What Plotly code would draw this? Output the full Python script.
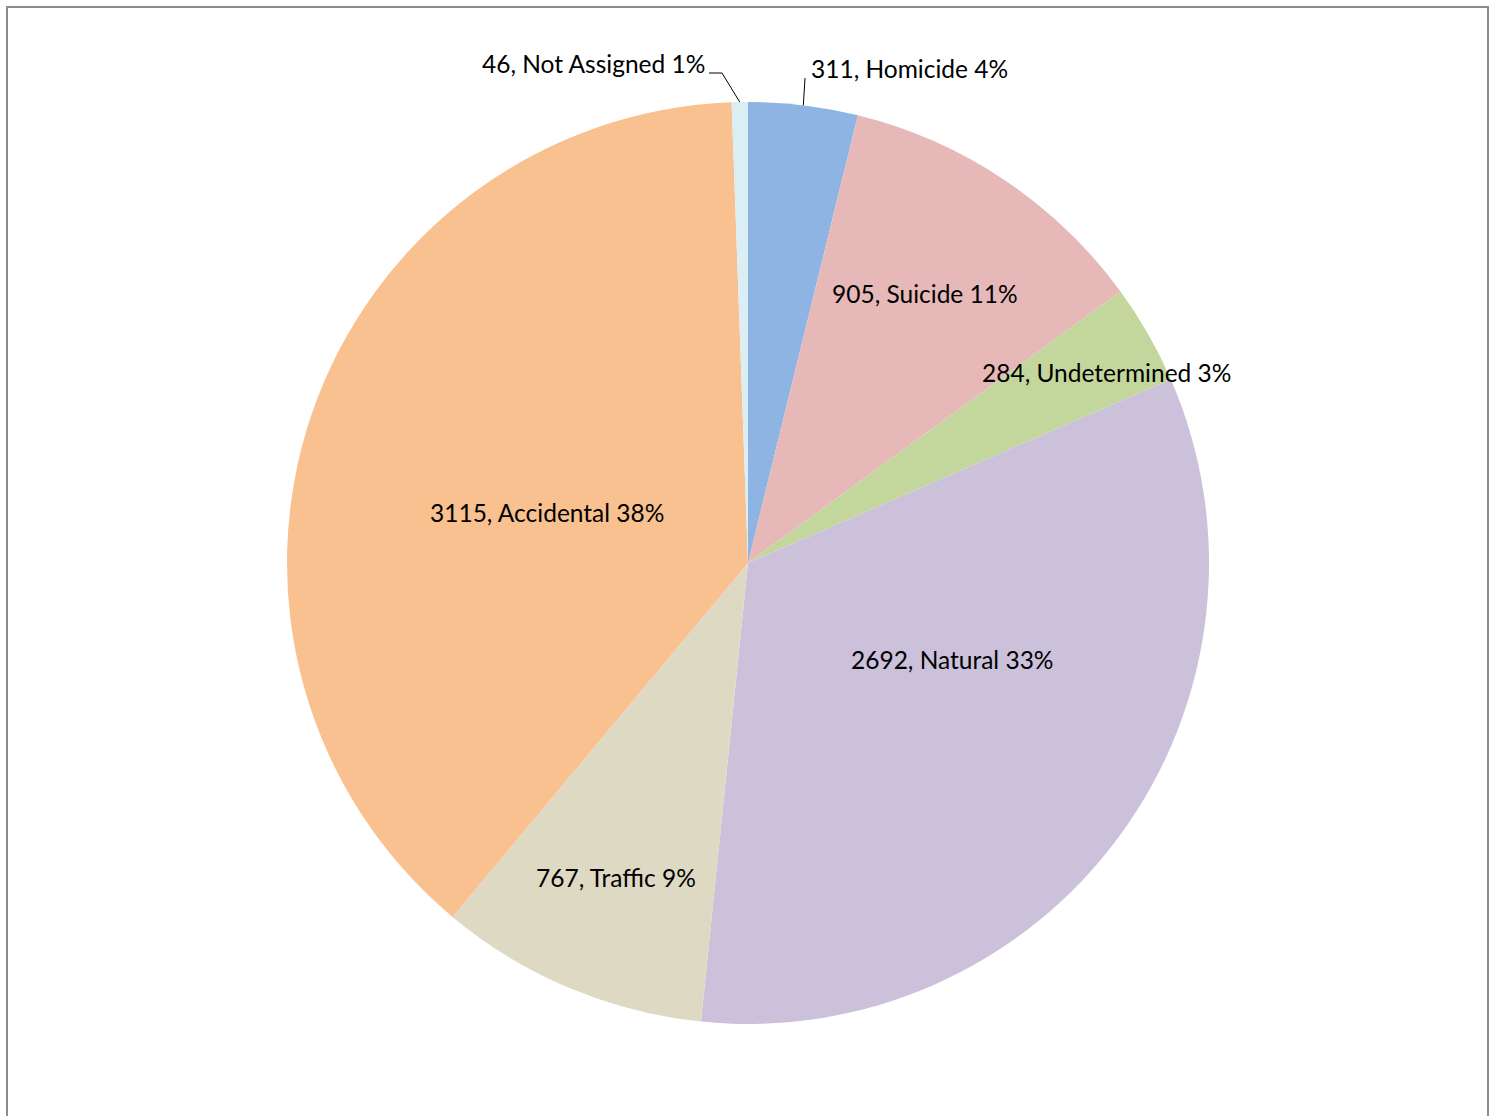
import math
import plotly.graph_objects as go

categories = ["Homicide", "Suicide", "Undetermined", "Natural", "Traffic", "Accidental", "Not Assigned"]
values = [311, 905, 284, 2692, 767, 3115, 46]
percent_labels = ["4%", "11%", "3%", "33%", "9%", "38%", "1%"]
colors = ["#8EB4E3", "#E6B9B8", "#C3D69B", "#CCC1DA", "#DDD9C3", "#F9C090", "#DAEEF3"]

W, H = 1494, 1116
CX, CY, R = 748, 563, 461
FONT = "Lato, Calibri, Carlito, sans-serif"
FS = 24.5

# label placement: (radius factor, angle offset deg, xanchor)
placement = {
    "Homicide": (1.095, 0.5, "left"),
    "Suicide": (0.70, -0.6, "center"),
    "Undetermined": (0.88, 1.8, "center"),
    "Natural": (0.49, -11.0, "center"),
    "Traffic": (0.74, 0.0, "center"),
    "Accidental": (0.45, -4.8, "center"),
    "Not Assigned": (1.065, -1.5, "right"),
}

fig = go.Figure(go.Pie(
    labels=categories, values=values, sort=False, direction="clockwise", rotation=0,
    marker=dict(colors=colors, line=dict(width=0)),
    textinfo="none", hoverinfo="label+value+percent", showlegend=False,
    domain=dict(x=[(CX - R - 5) / W, (CX + R + 5) / W], y=[1 - (CY + R) / H, 1 - (CY - R) / H]),
))

total = sum(values)
cum = 0.0
annotations = []
shapes = []
for cat, v, p in zip(categories, values, percent_labels):
    mid = (cum + v / 2) / total * 360
    cum += v
    f, off, anc = placement[cat]
    ang = math.radians(mid + off)
    px = CX + R * f * math.sin(ang)
    py = CY - R * f * math.cos(ang)
    if cat == "Not Assigned":
        px, py = 707, 64
    if cat == "Homicide":
        px, py = 809, 69
    annotations.append(dict(
        x=px / W, y=1 - py / H, xref="paper", yref="paper", xanchor=anc, yanchor="middle",
        text=f"{v}, {cat} {p}", showarrow=False, font=dict(family=FONT, size=FS, color="#000000"),
    ))
    # leader lines for small outside labels
    if cat in ("Not Assigned", "Homicide"):
        a = math.radians(mid)
        sx = CX + R * math.sin(a)
        sy = CY - R * math.cos(a)
        if cat == "Not Assigned":
            pts = [(sx, sy), (722, 73), (709, 73)]
        else:
            pts = [(sx, sy), (805, 78)]
        path = "M " + " L ".join(f"{x / W},{1 - y / H}" for x, y in pts)
        shapes.append(dict(type="path", path=path, xref="paper", yref="paper",
                           line=dict(color="#000000", width=1)))

shapes.append(dict(type="rect", xref="paper", yref="paper",
                   x0=7 / W, x1=1488 / W, y0=-0.05, y1=1 - 7 / H,
                   line=dict(color="#8C8C8C", width=2)))

fig.update_layout(
    width=W, height=H, margin=dict(l=0, r=0, t=0, b=0),
    paper_bgcolor="white", plot_bgcolor="white",
    annotations=annotations, shapes=shapes,
)
fig.write_html("out.html", config={"displayModeBar": False},
               post_script="document.body.style.margin='0';document.body.style.overflow='hidden';")
